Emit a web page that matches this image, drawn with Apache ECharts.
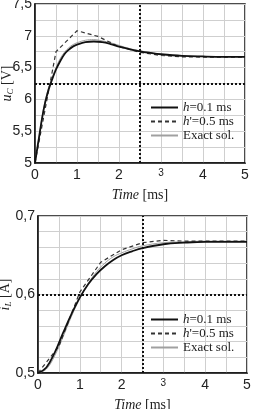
<!DOCTYPE html>
<html>
<head>
<meta charset="utf-8">
<script src="https://cdn.jsdelivr.net/npm/echarts@6/dist/echarts.min.js"></script>
<style>
html, body { margin: 0; padding: 0; background: #fff; }
#chart { width: 253px; height: 409px; }
</style>
</head>
<body>
<div id="chart"></div>
<script>
// u_C [V], upper plot
var tFine = [0, 0.1, 0.2, 0.3, 0.4, 0.5, 0.6, 0.7, 0.8, 0.9, 1.0, 1.2, 1.4, 1.6, 1.8, 2.0, 2.25, 2.5, 2.75, 3.0, 3.5, 4.0, 4.5, 5.0];
var uSolid = [5.0, 5.42, 5.82, 6.1, 6.3, 6.47, 6.6, 6.71, 6.78, 6.83, 6.86, 6.9, 6.91, 6.9, 6.87, 6.83, 6.79, 6.755, 6.73, 6.71, 6.685, 6.675, 6.67, 6.67];
var uExact = [5.0, 5.42, 5.84, 6.13, 6.33, 6.5, 6.64, 6.74, 6.81, 6.86, 6.89, 6.93, 6.94, 6.92, 6.89, 6.85, 6.8, 6.765, 6.735, 6.71, 6.685, 6.675, 6.67, 6.67];
var tCoarse = [0, 0.5, 1.0, 1.5, 2.0, 2.5, 3.0, 3.5, 4.0, 4.5, 5.0];
var uDashed = [5.0, 6.75, 7.08, 6.99, 6.83, 6.74, 6.69, 6.67, 6.665, 6.665, 6.665];
var uCross = [2.5, 6.25];

// i_L [A], lower plot
var tFineI = [0, 0.2, 0.4, 0.6, 0.8, 1.0, 1.2, 1.4, 1.6, 1.8, 2.0, 2.25, 2.5, 3.0, 3.5, 4.0, 4.5, 5.0];
var iSolid = [0.5, 0.507, 0.526, 0.551, 0.575, 0.596, 0.613, 0.626, 0.636, 0.644, 0.65, 0.655, 0.659, 0.664, 0.666, 0.667, 0.667, 0.667];
var iExact = [0.5, 0.505, 0.522, 0.546, 0.572, 0.595, 0.614, 0.629, 0.64, 0.648, 0.653, 0.658, 0.662, 0.666, 0.667, 0.668, 0.668, 0.668];
var iDashed = [0.5, 0.534, 0.603, 0.641, 0.657, 0.666, 0.669, 0.668, 0.668, 0.668, 0.668];
var iCross = [2.5, 0.6];

var names = ['h=0.1 ms', "h'=0.5 ms", 'Exact sol.'];
var xTicks = ['0', '1', '2', '3', '4', '5'];

var serif = '"Liberation Serif", "DejaVu Serif", serif';
var sans = '"Liberation Sans", Arial, sans-serif';

function pairs(xs, ys) {
	var out = [];
	for (var i = 0; i < xs.length; i++) out.push([xs[i], ys[i]]);
	return out;
}
function comma(v, step) {
	var k = Math.round(v / step);
	if (Math.abs(v / step - k) > 1e-6) return '';
	var s = String(+(k * step).toFixed(3));
	return s.replace('.', ',');
}

function xAxisFor(gi) {
	return {
		gridIndex: gi, type: 'value', min: 0, max: 5, interval: 0.5,
		name: '{i|Time} [ms]', nameLocation: 'middle', nameGap: 25, nameMoveOverlap: false,
		nameTextStyle: { fontFamily: serif, fontSize: 14, color: '#222',
			rich: { i: { fontFamily: serif, fontStyle: 'italic', fontSize: 14, color: '#222' } } },
		axisLine: { show: true, lineStyle: { color: '#111', width: 1.5 } },
		axisTick: { show: false },
		splitLine: { show: true, lineStyle: { color: '#cfcfcf', width: 1 } },
		axisLabel: {
			margin: 5, color: '#222', fontFamily: sans, fontSize: 14,
			formatter: function (v) {
				if (Math.abs(v - Math.round(v)) > 1e-6) return '';
				var t = xTicks[Math.round(v)];
				return t === '3' ? '{s|3}' : t;
			},
			rich: { s: { fontFamily: sans, fontSize: 10, color: '#222', padding: [0, 0, 4, 0] } }
		}
	};
}
function yAxisFor(gi, min, max, step, labelStep, name, gap) {
	return {
		gridIndex: gi, type: 'value', min: min, max: max, interval: step,
		name: name, nameLocation: 'middle', nameGap: gap, nameMoveOverlap: false,
		nameTextStyle: { fontFamily: serif, fontSize: 14, color: '#222',
			rich: {
				i: { fontFamily: serif, fontStyle: 'italic', fontSize: 14, color: '#222' },
				sub: { fontFamily: serif, fontStyle: 'italic', fontSize: 9, color: '#222', verticalAlign: 'bottom', padding: [6, 0, 0, 0] }
			} },
		axisLine: { show: true, lineStyle: { color: '#111', width: 1.5 } },
		axisTick: { show: false },
		splitLine: { show: true, lineStyle: { color: '#cfcfcf', width: 1 } },
		axisLabel: {
			margin: 3, color: '#222', fontFamily: sans, fontSize: 14,
			formatter: function (v) { return comma(v, labelStep); }
		}
	};
}
function cross(c) {
	return {
		silent: true, symbol: 'none', label: { show: false },
		lineStyle: { color: '#111', width: 2, type: [2, 2] },
		data: [{ xAxis: c[0] }, { yAxis: c[1] }]
	};
}
function seriesFor(gi, tf, solid, exact, dashed, c) {
	return [
		{ name: names[2], type: 'line', xAxisIndex: gi, yAxisIndex: gi, data: pairs(tf, exact),
			smooth: 0.4, symbol: 'none', color: '#a0a0a0', lineStyle: { color: '#a0a0a0', width: 1 }, z: 2 },
		{ name: names[1], type: 'line', xAxisIndex: gi, yAxisIndex: gi, data: pairs(tCoarse, dashed),
			symbol: 'none', color: '#333', lineStyle: { color: '#333', width: 1.2, type: [4, 3] }, z: 3 },
		{ name: names[0], type: 'line', xAxisIndex: gi, yAxisIndex: gi, data: pairs(tf, solid),
			smooth: 0.4, symbol: 'none', color: '#111', lineStyle: { color: '#111', width: 1.8 }, z: 4, markLine: cross(c) }
	];
}
function legendFor(top) {
	return {
		orient: 'vertical', left: 145, top: top, itemWidth: 27, itemHeight: 14, itemGap: 1,
		data: names, selectedMode: false,
		itemStyle: { opacity: 0 },
		textStyle: { fontFamily: serif, fontSize: 13, color: '#222',
			rich: { i: { fontFamily: serif, fontStyle: 'italic', fontSize: 13, color: '#222' } } },
		formatter: function (n) {
			if (n === names[0]) return '{i|h}=0.1 ms';
			if (n === names[1]) return "{i|h}'=0.5 ms";
			return n;
		}
	};
}

var chart = echarts.init(document.getElementById('chart'), null, { renderer: 'canvas' });
chart.setOption({
	animation: false,
	backgroundColor: '#fff',
	grid: [
		{ left: 35, top: 4, width: 210, height: 159, show: true, borderColor: '#111', borderWidth: 1.5, containLabel: false, outerBoundsMode: 'none' },
		{ left: 38, top: 216, width: 209, height: 157, show: true, borderColor: '#111', borderWidth: 1.5, containLabel: false, outerBoundsMode: 'none' }
	],
	legend: [legendFor(96), legendFor(308)],
	xAxis: [xAxisFor(0), xAxisFor(1)],
	yAxis: [
		yAxisFor(0, 5, 7.5, 0.25, 0.5, '{i|u}{sub|C} [V]', 20),
		yAxisFor(1, 0.5, 0.7, 0.02, 0.1, '{i|i}{sub|L} [A]', 25)
	],
	series: seriesFor(0, tFine, uSolid, uExact, uDashed, uCross)
		.concat(seriesFor(1, tFineI, iSolid, iExact, iDashed, iCross))
});
</script>
</body>
</html>
